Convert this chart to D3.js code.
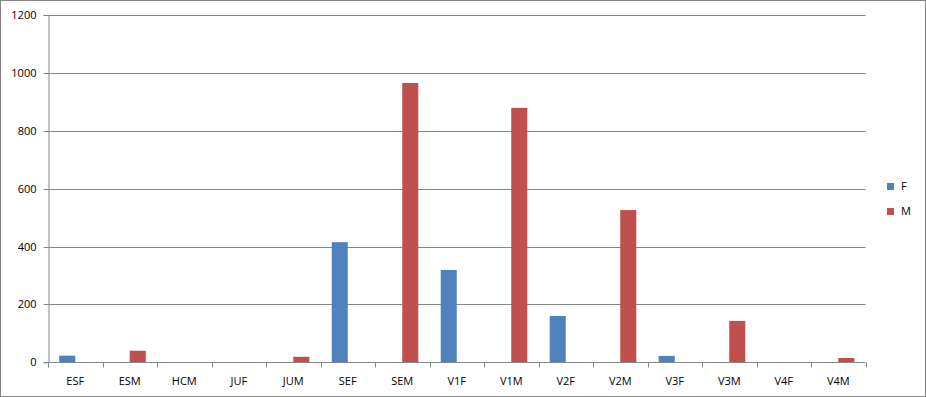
<!DOCTYPE html>
<html><head><meta charset="utf-8">
<script src="https://cdn.jsdelivr.net/npm/d3@7"></script>
<style>body{margin:0;background:#fff}svg{display:block}text{font-family:"Open Sans","Liberation Sans",sans-serif;font-size:11px;fill:#000}</style>
</head><body>
<script>
const categories = ["ESF","ESM","HCM","JUF","JUM","SEF","SEM","V1F","V1M","V2F","V2M","V3F","V3M","V4F","V4M"];
const seriesNames = ["F","M"];
const valuesF = [23,0,0,0,0,415,0,319,0,160,0,22,0,0,0];
const valuesM = [0,40,0,0,19,0,965,0,879,0,526,0,143,0,15];
const yTicks = [0,200,400,600,800,1000,1200];
const colors = ["#4F81BD","#C0504D"];

const W=926,H=397;
const svg=d3.select("body").append("svg").attr("width",W).attr("height",H);
svg.append("rect").attr("x",0.5).attr("y",0.5).attr("width",W-1).attr("height",H-1).attr("fill","#fff").attr("stroke","#868686");

const L=48,R=865.5,T=15,B=362.3;
const x=d3.scaleBand().domain(categories).range([L,R]).padding(0);
const x1=d3.scaleBand().domain(seriesNames).range([0,x.bandwidth()]).paddingInner(0).paddingOuter(0.7);
const y=d3.scaleLinear().domain([0,1200]).range([B,T]);

// gridlines
svg.append("g").selectAll("line").data(yTicks.filter(d=>d>0)).join("line")
  .attr("x1",L).attr("x2",R).attr("y1",d=>Math.round(y(d))+0.5).attr("y2",d=>Math.round(y(d))+0.5)
  .attr("stroke","#868686");

const yAxis=svg.append("g").attr("transform",`translate(${L+0.5},0)`)
  .call(d3.axisLeft(y).tickValues(yTicks).tickSize(5).tickPadding(7).tickFormat(d3.format("d")));
yAxis.select(".domain").attr("stroke","#868686");
yAxis.selectAll(".tick line").attr("stroke","#868686");
yAxis.selectAll(".tick").attr("transform",d=>`translate(0,${Math.round(y(d))+0.5})`);

const data=categories.map((c,i)=>({c,vals:[valuesF[i],valuesM[i]]}));
const g=svg.append("g").selectAll("g").data(data).join("g").attr("transform",d=>`translate(${x(d.c)},0)`);
g.selectAll("rect").data(d=>d.vals.map((v,j)=>({s:seriesNames[j],v,j}))).join("rect")
  .attr("x",d=>x1(d.s)).attr("width",x1.bandwidth())
  .attr("y",d=>y(d.v)).attr("height",d=>B-y(d.v)).attr("fill",d=>colors[d.j]);

// x axis
const xa=svg.append("g").attr("transform",`translate(0,${Math.round(B)+0.5})`);
xa.append("line").attr("x1",L).attr("x2",R).attr("stroke","#868686");
const bounds=categories.map(c=>x(c)).concat([R]);
xa.selectAll(".tk").data(bounds).join("line").attr("class","tk")
  .attr("x1",d=>Math.round(d)+0.5).attr("x2",d=>Math.round(d)+0.5).attr("y1",0).attr("y2",5).attr("stroke","#868686");
xa.selectAll("text").data(categories).join("text")
  .attr("x",d=>x(d)+x.bandwidth()/2).attr("y",22).attr("text-anchor","middle").text(d=>d);

// legend
const lg=svg.append("g").selectAll("g").data(seriesNames).join("g")
  .attr("transform",(d,i)=>`translate(887,${183+i*25})`);
lg.append("rect").attr("width",7).attr("height",7).attr("fill",(d,i)=>colors[i]);
lg.append("text").attr("x",14).attr("y",7).text(d=>d);
</script>
</body></html>
